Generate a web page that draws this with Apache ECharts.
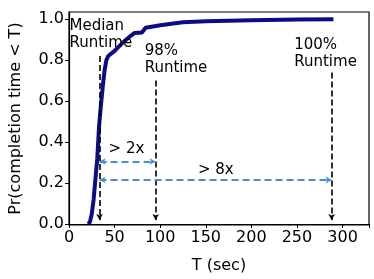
<!DOCTYPE html>
<html>
<head>
<meta charset="utf-8">
<script src="https://cdn.jsdelivr.net/npm/echarts@6/dist/echarts.min.js"></script>
<style>html,body{margin:0;padding:0;background:#fff}#c{width:374px;height:279px}</style>
</head>
<body>
<div id="c"></div>
<script>
// CDF of completion time
var timeSec = [21, 23, 25, 27, 29, 31, 33, 35, 37, 39, 41, 43, 50, 60, 68, 72, 80, 84, 100, 125, 150, 200, 250, 290];
var cdf =     [0.0, 0.01, 0.05, 0.12, 0.22, 0.32, 0.48, 0.58, 0.67, 0.75, 0.80, 0.82, 0.845, 0.89, 0.92, 0.933, 0.935, 0.958, 0.97, 0.985, 0.99, 0.995, 0.998, 1.0];

var xTicks = [0, 50, 100, 150, 200, 250, 300];
var yTicks = [0.0, 0.2, 0.4, 0.6, 0.8, 1.0];

// runtime markers: T of each, top of its dashed line
var markerNames = ['Median', '98%', '100%'];
var markerT = [33.5, 95, 288];
var markerTop = [0.82, 0.70, 0.74];
var markerBottom = 0.02;

// speed-up arrows
var gapFrom = [33.5, 33.5];
var gapTo = [95, 288];
var gapLevel = [0.305, 0.215];
var gapLabels = ['> 2x', '> 8x'];

// text annotations
var noteT = [0.5, 83, 247, 63, 161];
var notePr = [1.01, 0.885, 0.915, 0.365, 0.265];
var noteText = ['Median\nRuntime', '98%\nRuntime', '100%\nRuntime', gapLabels[0], gapLabels[1]];
var noteAlign = ['left', 'left', 'left', 'center', 'center'];
var noteVAlign = ['top', 'top', 'top', 'middle', 'middle'];

var FONT = 'DejaVu Sans';
var chart = echarts.init(document.getElementById('c'), null, {renderer: 'canvas'});

var curve = timeSec.map(function (t, i) { return [t, cdf[i]]; });

var markData = [];
markerT.forEach(function (t, i) {
  markData.push([
    {coord: [t, markerTop[i]], symbol: 'none', lineStyle: {color: '#000', type: [6, 3], width: 1.6}},
    {coord: [t, markerBottom], symbol: 'arrow', symbolSize: [5, 6]}
  ]);
});
gapFrom.forEach(function (f, i) {
  markData.push([
    {coord: [f, gapLevel[i]], symbol: 'arrow', symbolSize: [5, 6], lineStyle: {color: '#4a8ccc', type: [7, 4], width: 2}},
    {coord: [gapTo[i], gapLevel[i]], symbol: 'arrow', symbolSize: [5, 6]}
  ]);
});

var notes = noteT.map(function (t, i) {
  return {
    value: [t, notePr[i]],
    label: {show: true, formatter: noteText[i], position: [0, 0], align: noteAlign[i], verticalAlign: noteVAlign[i],
            fontFamily: FONT, fontSize: 15, lineHeight: 17, color: '#000'}
  };
});

chart.setOption({
  animation: false,
  grid: {left: 62, right: 5, top: 12, bottom: 50, show: true, borderColor: '#000', borderWidth: 1.2, backgroundColor: 'transparent'},
  xAxis: {
    type: 'value', min: 0, max: 329, interval: 50,
    name: 'T (sec)', nameLocation: 'middle', nameGap: 33,
    nameTextStyle: {fontFamily: FONT, fontSize: 16, color: '#000'},
    axisLine: {show: true, lineStyle: {color: '#000', width: 1.2}},
    axisTick: {show: true, length: 4, lineStyle: {color: '#000'}},
    axisLabel: {fontFamily: FONT, fontSize: 16, color: '#000', margin: 5,
      formatter: function (v) { return xTicks.indexOf(v) >= 0 ? String(v) : ''; }},
    splitLine: {show: false}
  },
  yAxis: {
    type: 'value', min: -0.005, max: 1.035,
    name: 'Pr(completion time < T)', nameLocation: 'middle', nameGap: 45,
    nameTextStyle: {fontFamily: FONT, fontSize: 16, color: '#000'},
    axisLine: {show: true, lineStyle: {color: '#000', width: 1.2}},
    axisTick: {show: true, length: 4, lineStyle: {color: '#000'}, customValues: yTicks},
    axisLabel: {fontFamily: FONT, fontSize: 16, color: '#000', margin: 5, customValues: yTicks,
      formatter: function (v) { return v.toFixed(1); }},
    splitLine: {show: false}
  },
  series: [
    {
      type: 'line', data: curve, symbol: 'none', smooth: false,
      lineStyle: {color: '#0c0c8a', width: 4}, z: 3
    },
    {
      type: 'scatter', data: notes, symbolSize: 0, z: 5, silent: true, clip: false,
      itemStyle: {opacity: 1},
      markLine: {silent: true, animation: false, label: {show: false}, data: markData}
    }
  ]
});
</script>
</body>
</html>
